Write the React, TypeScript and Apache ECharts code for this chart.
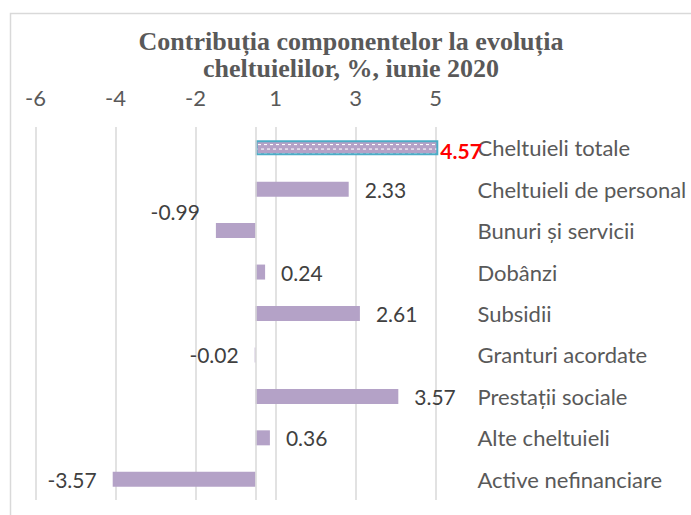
import React, { useEffect, useRef } from "react";
import * as echarts from "echarts";

const titleLines = ["Contribuția componentelor la evoluția", "cheltuielilor, %, iunie 2020"];
const categories = [
  "Cheltuieli totale",
  "Cheltuieli de personal",
  "Bunuri și servicii",
  "Dobânzi",
  "Subsidii",
  "Granturi acordate",
  "Prestații sociale",
  "Alte cheltuieli",
  "Active nefinanciare",
];
const values = [4.57, 2.33, -0.99, 0.24, 2.61, -0.02, 3.57, 0.36, -3.57];
const tickLabels = ["-6", "-4", "-2", "1", "3", "5"];

const SANS = "Lato, 'Open Sans', sans-serif";
const BAR = "#b4a2c7";

function patternUrl() {
  const svg =
    "<svg xmlns='http://www.w3.org/2000/svg' width='6' height='9'>" +
    "<rect width='6' height='9' fill='" + BAR + "'/>" +
    "<rect x='0' y='0' width='3' height='1.1' fill='#ffffff'/>" +
    "<rect x='3' y='4.5' width='3' height='1.1' fill='#ffffff'/>" +
    "</svg>";
  return "data:image/svg+xml;charset=utf-8," + encodeURIComponent(svg);
}

export default function App() {
  const ref = useRef<HTMLDivElement>(null);
  useEffect(() => {
    if (!ref.current) return;
    const chart = echarts.init(ref.current, undefined, { renderer: "svg" });
    const data = values.map((v, i) => {
      const item: any = {
        value: v,
        label: { position: v >= 0 ? "right" : "left" },
      };
      if (i === 0) {
        item.itemStyle = {
          color: { image: patternUrl(), repeat: "repeat", imageWidth: 6, imageHeight: 9 },
          borderColor: "#4bacc6",
          borderWidth: 2,
        };
        item.label = {
          position: "right",
          distance: 2,
          offset: [0, 3],
          color: "#ff0000",
          fontWeight: "bold",
        };
      }
      if (categories[i] === "Bunuri și servicii") {
        item.label = { position: "left", offset: [0, -19] };
      }
      return item;
    });
    const option: any = {
      animation: false,
      backgroundColor: "#ffffff",
      title: {
        text: titleLines.join("\n"),
        left: 351,
        top: 28,
        padding: 0,
        textAlign: "center",
        textStyle: {
          fontFamily: "'Liberation Serif', serif",
          fontWeight: "bold",
          fontSize: 26,
          lineHeight: 27,
          color: "#595959",
        },
      },
      grid: { left: 35.5, right: 255.5, top: 127, bottom: 15, containLabel: false },
      xAxis: {
        type: "value",
        position: "top",
        min: -5.5,
        max: 4.5,
        interval: 2,
        axisLine: { show: false },
        axisTick: { show: false },
        splitLine: { show: true, lineStyle: { color: "#d9d9d9", width: 1.5 } },
        axisLabel: {
          margin: 22,
          fontSize: 22,
          lineHeight: 16,
          color: "#595959",
          fontFamily: SANS,
          formatter: (_v: number, i: number) => tickLabels[i] ?? "",
        },
      },
      yAxis: {
        type: "category",
        data: categories,
        inverse: true,
        position: "right",
        axisLine: { show: false },
        axisTick: { show: false },
        splitLine: { show: false },
        axisLabel: {
          margin: 42,
          fontSize: 22,
          color: "#595959",
          fontFamily: SANS,
          align: "left",
        },
      },
      series: [
        {
          type: "bar",
          data,
          barWidth: 15,
          clip: false,
          itemStyle: { color: BAR },
          label: {
            show: true,
            fontSize: 21,
            color: "#404040",
            fontFamily: SANS,
            distance: 16,
            formatter: (p: any) => Number(p.value).toFixed(2),
          },
          markLine: {
            silent: true,
            symbol: ["none", "none"],
            label: { show: false },
            lineStyle: { color: "#d9d9d9", width: 1.5, type: "solid" },
            data: [{ xAxis: 0 }],
          },
        },
      ],
      graphic: [
        {
          type: "rect",
          silent: true,
          z: -10,
          shape: { x: 10.5, y: 13.5, width: 720, height: 540 },
          style: { fill: "none", stroke: "#d9d9d9", lineWidth: 1.5 },
        },
      ],
    };
    chart.setOption(option);
    return () => chart.dispose();
  }, []);
  return (
    <div
      ref={ref}
      style={{ position: "fixed", left: 0, top: 0, width: 691, height: 515, background: "#fff" }}
    />
  );
}
